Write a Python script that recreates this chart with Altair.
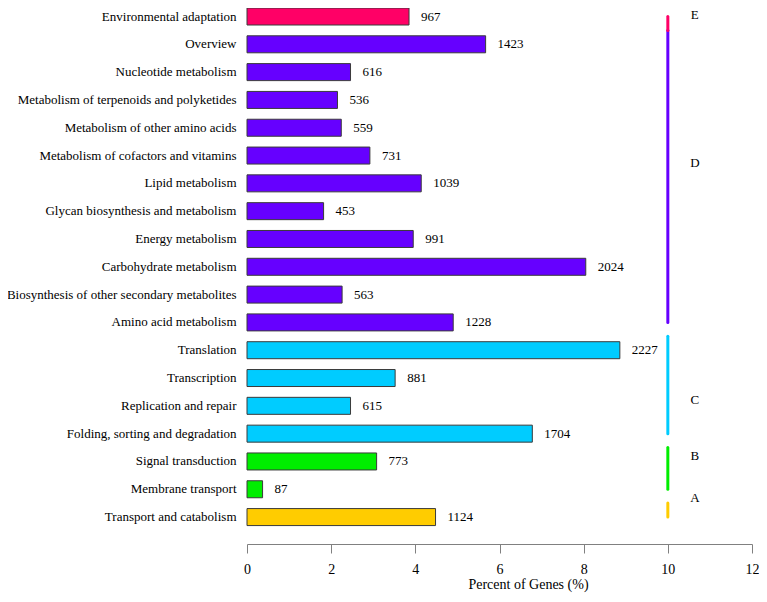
import altair as alt
import pandas as pd

# ---- data (top to bottom) ----
categories = [
    "Environmental adaptation",
    "Overview",
    "Nucleotide metabolism",
    "Metabolism of terpenoids and polyketides",
    "Metabolism of other amino acids",
    "Metabolism of cofactors and vitamins",
    "Lipid metabolism",
    "Glycan biosynthesis and metabolism",
    "Energy metabolism",
    "Carbohydrate metabolism",
    "Biosynthesis of other secondary metabolites",
    "Amino acid metabolism",
    "Translation",
    "Transcription",
    "Replication and repair",
    "Folding, sorting and degradation",
    "Signal transduction",
    "Membrane transport",
    "Transport and catabolism",
]
percents = [3.85, 5.67, 2.46, 2.15, 2.24, 2.92, 4.14, 1.82, 3.95, 8.05,
            2.26, 4.90, 8.86, 3.52, 2.46, 6.78, 3.08, 0.37, 4.48]
counts = [967, 1423, 616, 536, 559, 731, 1039, 453, 991, 2024,
          563, 1228, 2227, 881, 615, 1704, 773, 87, 1124]
groups = ["E", "D", "D", "D", "D", "D", "D", "D", "D", "D",
          "D", "D", "C", "C", "C", "C", "B", "B", "A"]

group_names = ["E", "D", "C", "B", "A"]
group_colors = ["#FF0066", "#6600FF", "#00CCFF", "#00EE00", "#FFCC00"]
group_first = ["Environmental adaptation", "Overview", "Translation",
               "Signal transduction", "Transport and catabolism"]
group_last = ["Environmental adaptation", "Amino acid metabolism",
              "Folding, sorting and degradation", "Membrane transport",
              "Transport and catabolism"]
# row each group letter is placed next to
letter_rows = ["Environmental adaptation", "Metabolism of cofactors and vitamins",
               "Replication and repair", "Signal transduction", "Membrane transport"]
bracket_x = 10

# ---- styling (not data) ----
FONT = "Liberation Serif"
letter_dy = {"E": -2, "D": 7, "C": -6, "B": -5, "A": 9}

df = pd.DataFrame({"category": categories, "percent": percents,
                   "count": counts, "group": groups})
gdf = pd.DataFrame({"group": group_names, "color": group_colors,
                    "start": group_first, "end": group_last})

color_scale = alt.Scale(domain=group_names, range=group_colors)
yscale = alt.Scale(domain=categories, paddingInner=0.3887,
                   paddingOuter=0.3313, align=0)
yaxis = alt.Axis(title=None, ticks=False, domain=False, labelFont=FONT,
                 labelFontSize=13, labelColor="black", labelPadding=11,
                 labelLimit=400)

xenc = alt.X("percent:Q",
             scale=alt.Scale(domain=[0, 12], nice=False, zero=True),
             axis=alt.Axis(values=[0, 2, 4, 6, 8, 10, 12], grid=False,
                           title="Percent of Genes (%)", titleFont=FONT,
                           titleFontSize=14, titleFontWeight="normal",
                           titleColor="black", titleX=281, titleY=44,
                           titleAlign="center", titleBaseline="alphabetic",
                           labelFont=FONT, labelFontSize=14, labelColor="black",
                           labelPadding=9, tickSize=9, tickColor="#808080",
                           domainColor="#808080", labelFlush=False))

base = alt.Chart(df)

bars = base.mark_bar(stroke="#3a3a3a", strokeWidth=1).encode(
    y=alt.Y("category:N", scale=yscale, axis=yaxis),
    x=xenc,
    color=alt.Color("group:N", scale=color_scale, legend=None),
)

labels = base.mark_text(align="left", baseline="middle", dx=12,
                        font=FONT, fontSize=13, color="black").encode(
    y=alt.Y("category:N", scale=yscale, axis=yaxis),
    x=alt.X("percent:Q"),
    text=alt.Text("count:Q", format="d"),
)

rules_main = alt.Chart(gdf[gdf.group != "E"]).mark_rule(
    strokeWidth=3, strokeCap="round", yOffset=-14, y2Offset=0
).encode(
    x=alt.datum(bracket_x),
    y=alt.Y("start:N", scale=yscale, axis=yaxis),
    y2=alt.Y2("end:N"),
    color=alt.Color("group:N", scale=color_scale, legend=None),
)

rule_e = alt.Chart(gdf[gdf.group == "E"]).mark_rule(
    strokeWidth=3, strokeCap="round", yOffset=0, y2Offset=14
).encode(
    x=alt.datum(bracket_x),
    y=alt.Y("start:N", scale=yscale, axis=yaxis),
    y2=alt.Y2("end:N"),
    color=alt.Color("group:N", scale=color_scale, legend=None),
)

letter_layers = []
for g, row in zip(group_names, letter_rows):
    ldf = pd.DataFrame({"letter": [g], "row": [row]})
    letter_layers.append(
        alt.Chart(ldf).mark_text(align="center", baseline="middle", dx=27,
                                 dy=letter_dy[g], font=FONT, fontSize=13,
                                 color="black").encode(
            x=alt.datum(bracket_x),
            y=alt.Y("row:N", scale=yscale, axis=yaxis),
            text="letter:N",
        )
    )

chart = alt.layer(bars, labels, rules_main, rule_e, *letter_layers).properties(
    width=505, height=536,
    autosize=alt.AutoSizeParams(type="none"),
    padding={"left": 239, "top": 0, "right": 7, "bottom": 49},
).configure(font=FONT, view=alt.ViewConfig(stroke=None))

chart.save("out.html", embed_options={"renderer": "svg", "actions": False})
